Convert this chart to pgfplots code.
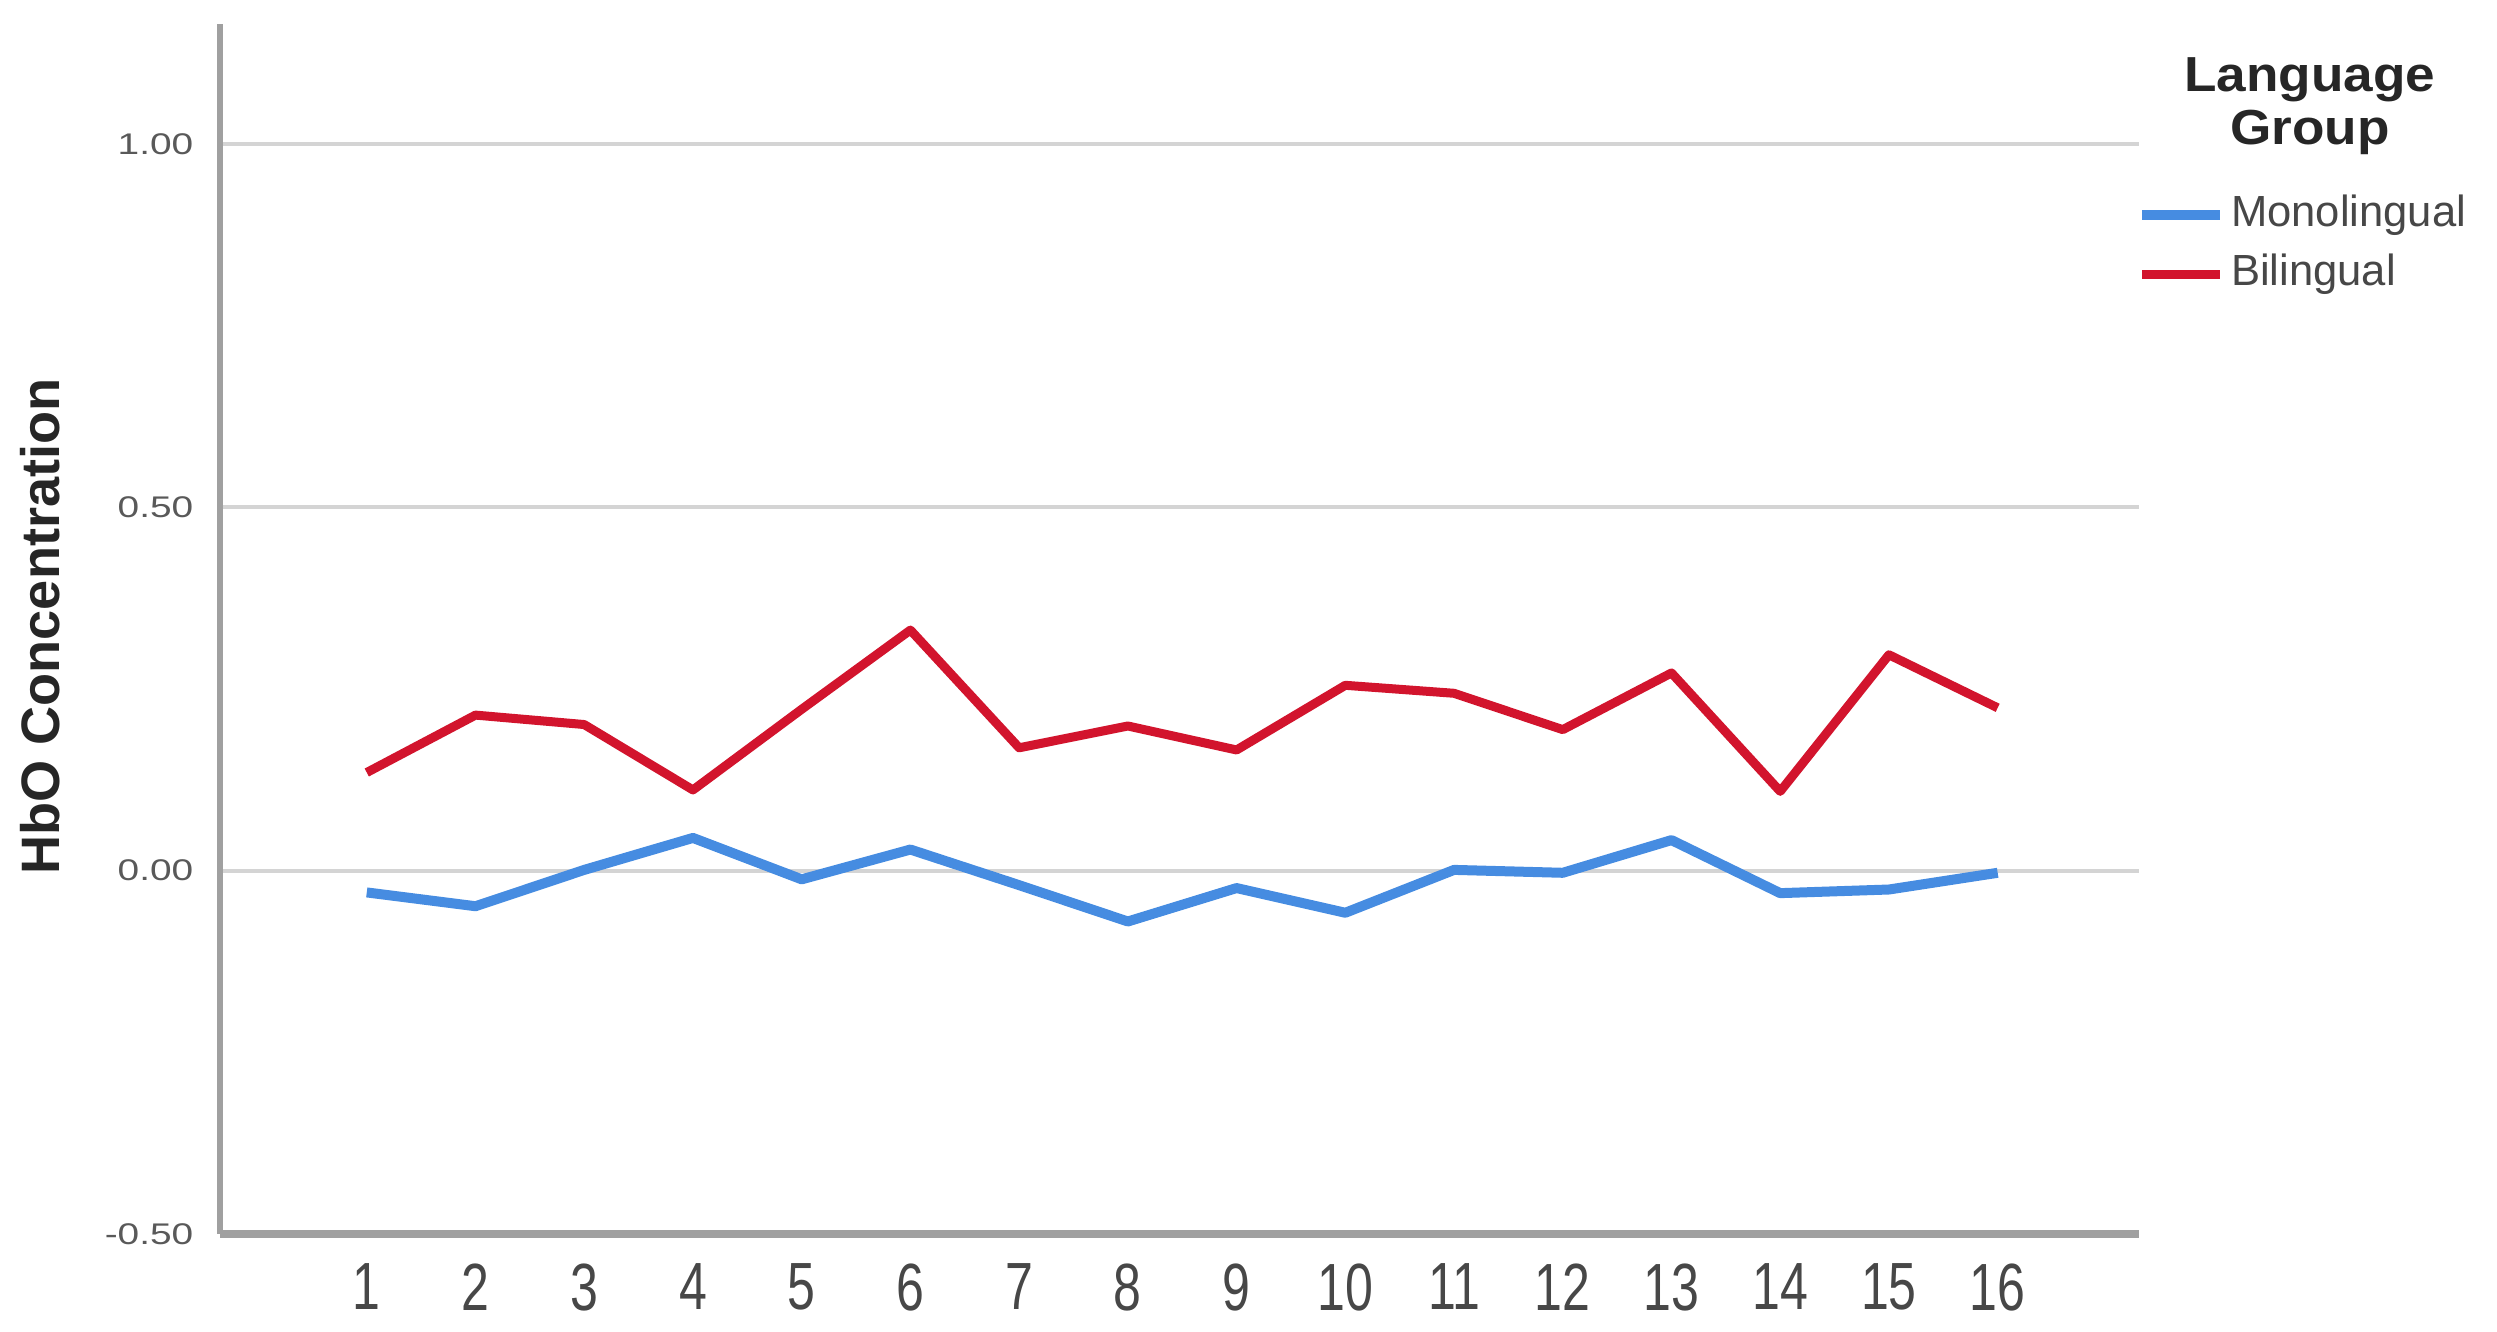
\documentclass[border=0pt]{standalone}
\usepackage{fontspec}
\setmainfont{Liberation Sans}
\usepackage{graphicx}
\usepackage{pgfplots}
\pgfplotsset{compat=1.18}
\definecolor{mono}{RGB}{70,140,225}
\definecolor{bil}{RGB}{210,20,45}
\definecolor{gridc}{RGB}{212,212,212}
\definecolor{axc}{RGB}{160,160,160}
\newcommand{\ys}[1]{\scalebox{1.3}[1]{#1}}
\begin{document}
\begin{tikzpicture}
\begin{axis}[
  scale only axis,
  width=191.9mm, height=121.0mm,
  xmin=-0.35, xmax=17.3,
  ymin=-0.5, ymax=1.165,
  axis x line*=bottom, axis y line*=left,
  x axis line style={draw=axc, line width=0.8mm, -},
  y axis line style={draw=axc, line width=0.6mm, -},
  xtick={1,...,16},
  ytick={-0.5,0,0.5,1},
  yticklabels={\ys{-0.50},\ys{0.00},\ys{0.50},\ys{1.00}},
  major tick length=0pt,
  tick style={draw=none},
  /pgf/number format/assume math mode=true,
  xticklabel={\scalebox{0.75}[1]{\pgfmathprintnumber{\tick}}},
  xticklabel style={anchor=north, inner sep=0pt, yshift=-2.9mm, text=black!72, font=\fontsize{19}{22}\selectfont},
  yticklabel style={anchor=east, inner sep=0pt, xshift=-2.6mm, text=black!65, font=\fontsize{8.5}{10}\selectfont},
  ymajorgrids,
  grid style={draw=gridc, line width=0.4mm},
  ylabel={HbO Concentration},
  ylabel style={at={(axis description cs:-0.0938,0.502)}, anchor=center, font=\bfseries\fontsize{15.4}{18}\selectfont, text=black!85},
  legend cell align=left,
  legend image code/.code={\draw[#1] (0mm,0mm) -- (7.8mm,0mm);},
  legend style={draw=none, fill=none, inner sep=0pt, outer sep=0pt, at={(axis description cs:0.999,0.8595)}, anchor=north west,
    font=\fontsize{12.4}{14}\selectfont, text=black!72, row sep=1.6mm,
    nodes={inner sep=0pt, text height=3.3mm, text depth=1mm},
    /tikz/every odd column/.append style={column sep=0.6mm}},
  clip=false,
]
\addplot[color=mono, line width=1.0mm, line join=round] coordinates {
 (1,-0.030) (2,-0.049) (3,0.001) (4,0.045) (5,-0.012) (6,0.029) (7,-0.020) (8,-0.070)
 (9,-0.024) (10,-0.058) (11,0.001) (12,-0.003) (13,0.042) (14,-0.031) (15,-0.026) (16,-0.003)};
\addlegendentry{Monolingual}
\addplot[color=bil, line width=0.9mm, line join=round] coordinates {
 (1,0.135) (2,0.214) (3,0.201) (4,0.111) (5,0.222) (6,0.331) (7,0.169) (8,0.199)
 (9,0.166) (10,0.255) (11,0.244) (12,0.194) (13,0.272) (14,0.109) (15,0.297) (16,0.224)};
\addlegendentry{Bilingual}
\node[anchor=base, font=\bfseries\fontsize{14}{16}\selectfont, text=black!85, inner sep=0pt] at (axis description cs:1.089,0.944) {\scalebox{1.08}[1]{Language}};
\node[anchor=base, font=\bfseries\fontsize{14}{16}\selectfont, text=black!85, inner sep=0pt] at (axis description cs:1.089,0.900) {\scalebox{1.08}[1]{Group}};
\end{axis}
\pgfresetboundingbox
\path[use as bounding box] (-22mm,-9.8mm) rectangle (227.7mm,123.4mm);
\end{tikzpicture}
\end{document}
